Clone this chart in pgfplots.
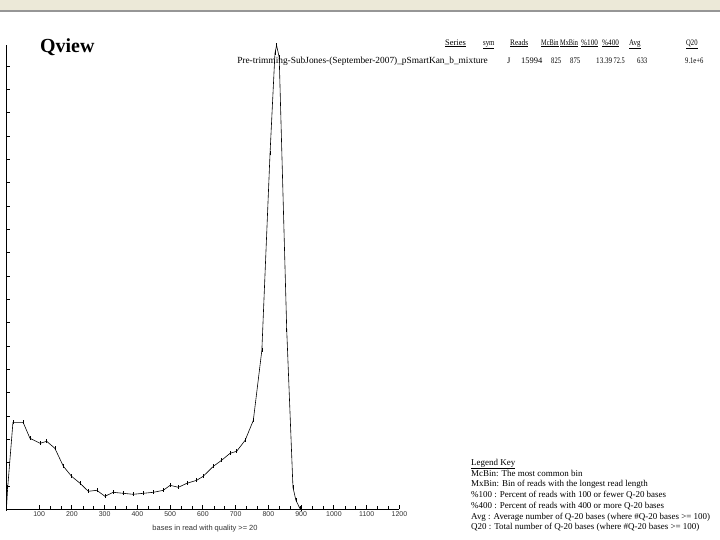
\documentclass[border=0pt]{standalone}
\usepackage{graphicx}
\usepackage{pgfplots}
\pgfplotsset{compat=1.18}
\usepackage{fontspec}
\setmainfont{Liberation Serif}
\newfontfamily\sansf{Liberation Sans}
\definecolor{barbg}{RGB}{236,233,216}
\definecolor{barline}{RGB}{150,150,150}
\newcommand{\sx}[2]{\scalebox{#1}[1]{#2}}
\begin{document}
\begin{tikzpicture}
\path[use as bounding box, fill=white] (0,0) rectangle (720bp,-540bp);
\fill[barbg] (0,0) rectangle (720bp,-9.5bp);
\fill[barline] (0,-9.5bp) rectangle (720bp,-11.5bp);
\node[anchor=base west, inner sep=0pt, font=\fontsize{20}{20}\selectfont\bfseries] at (40bp,-52bp) {Qview};
% header
\begin{scope}[every node/.style={anchor=base west, inner sep=0pt, font=\fontsize{8.5}{9}\selectfont}]
\node at (445bp,-45bp) {\underline{Series}};
\node at (483bp,-45bp) {\underline{\sx{0.8}{sym}}};
\node at (510bp,-45bp) {\underline{\sx{0.87}{Reads}}};
\node at (541bp,-45bp) {\underline{\sx{0.74}{McBin}}};
\node at (560bp,-45bp) {\underline{\sx{0.74}{MxBin}}};
\node at (581bp,-45bp) {\underline{\sx{0.85}{\%100}}};
\node at (602bp,-45bp) {\underline{\sx{0.85}{\%400}}};
\node at (629bp,-45bp) {\underline{\sx{0.82}{Avg}}};
\node at (686bp,-45bp) {\underline{\sx{0.78}{Q20}}};
\node[anchor=base east, font=\fontsize{9.4}{10}\selectfont] at (488bp,-63bp) {Pre-trimming-SubJones-(September-2007)\_pSmartKan\_b\_mixture};
\node at (507bp,-63bp) {J};
\node at (521bp,-63bp) {15994};
\node at (551bp,-63bp) {\sx{0.78}{825}};
\node at (570bp,-63bp) {\sx{0.8}{875}};
\node at (596bp,-63bp) {\sx{0.84}{13.39}};
\node at (613.5bp,-63bp) {\sx{0.75}{72.5}};
\node at (637bp,-63bp) {\sx{0.8}{633}};
\node at (685bp,-63bp) {\sx{0.78}{9.1e+6}};
% legend key
\begin{scope}[every node/.append style={font=\fontsize{9}{10}\selectfont}]
\node at (471bp,-465bp) {\underline{Legend Key}};
\node at (471bp,-476bp) {McBin: The most common bin};
\node at (471bp,-486.5bp) {MxBin: Bin of reads with the longest read length};
\node at (471bp,-497bp) {\%100 : Percent of reads with 100 or fewer Q-20 bases};
\node at (471bp,-508bp) {\%400 : Percent of reads with 400 or more Q-20 bases};
\node at (471bp,-519bp) {Avg : Average number of Q-20 bases (where \#Q-20 bases >= 100)};
\node at (471bp,-529.5bp) {Q20 : Total number of Q-20 bases (where \#Q-20 bases >= 100)};
\end{scope}
\end{scope}
\begin{axis}[
  at={(6.4bp,-509.3bp)}, anchor=south west,
  scale only axis, width=393bp, height=464.3bp,
  xmin=0, xmax=1200, ymin=0, ymax=464.3,
  axis x line=bottom, axis y line=left,
  axis line style={-, black},
  x axis line style={line width=1.6pt},
  y axis line style={line width=1.2pt},
  xtick={100,200,...,1200},
  minor x tick num=2,
  ytick={23.33,46.67,70,93.33,116.67,140,163.33,186.67,210,233.33,256.67,280,303.33,326.67,350,373.33,396.67,420,443.33},
  yticklabels={},
  tick align=inside,
  major tick length=4bp, minor tick length=3bp,
  every tick/.style={black, line width=0.9pt},
  minor tick style={line width=0.6pt},
  tick label style={font=\sansf\fontsize{7}{7}\selectfont, text=black!80},
  /pgf/number format/assume math mode=true,
  /pgf/number format/1000 sep={},
  xticklabel style={yshift=1bp},
  clip=false,
]
\addplot[black, line width=0.6pt, mark=|, mark size=2.2pt, mark options={line width=0.5pt}] coordinates {
(0,0)(4,22)(20,87)(51,87)(72,71)(103,66)(123,68)(148,61)(174,43)(199,33)(225,26)(250,18)(276,19)(301,13)(326,17)(357,16)(387,15)(418,16)(449,17)(479,19)(500,24)(525,22)(551,26)(581,29)(601,33)(632,43)(657,49)(683,56)(703,58)(729,69)(754,89)(780,159)(805,356)(820,456)(825,464)(833,452)(856,179)(875,22)(884,9)(896,1)(900,0)
};
\end{axis}
\node[anchor=base, inner sep=0pt, font=\sansf\fontsize{7.5}{8}\selectfont, text=black!80] at (205bp,-530bp) {bases in read with quality >= 20};
\end{tikzpicture}
\end{document}
